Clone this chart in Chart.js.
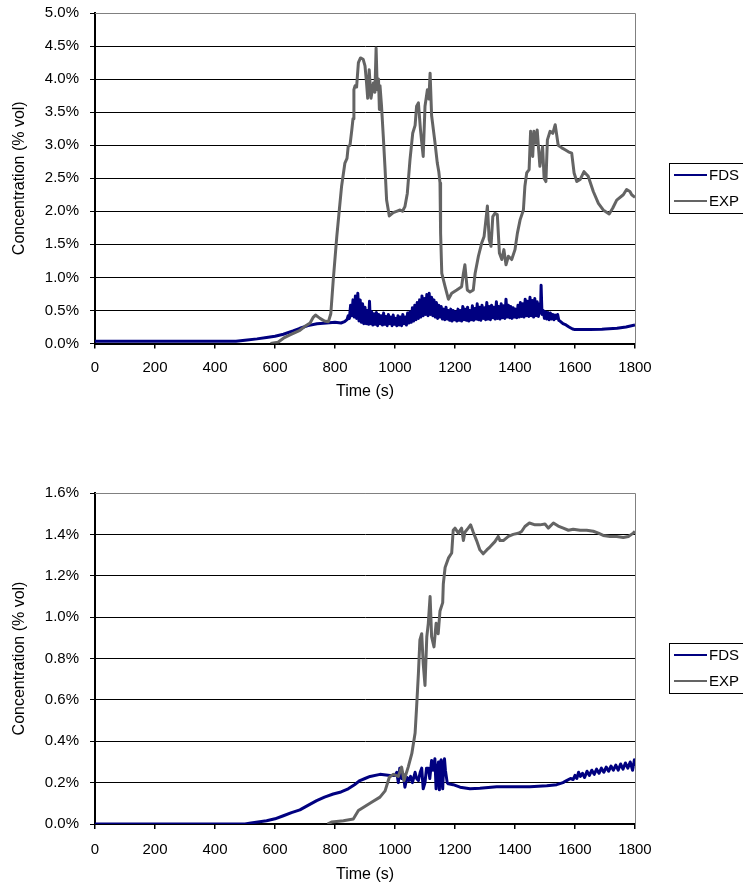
<!DOCTYPE html>
<html>
<head>
<meta charset="utf-8">
<script src="https://cdn.jsdelivr.net/npm/chart.js@4/dist/chart.umd.min.js"></script>
<style>
  body { margin: 0; background: #fff; }
  #wrap { position: relative; width: 743px; height: 884px; }
  canvas { position: absolute; left: 0; }
  #c1 { top: 0; }
  #c2 { top: 442px; }
</style>
</head>
<body>
<div id="wrap">
  <canvas id="c1" width="743" height="442"></canvas>
  <canvas id="c2" width="743" height="442"></canvas>
</div>
<script>
// time (s), concentration (% vol)
const xTicks = [0, 200, 400, 600, 800, 1000, 1200, 1400, 1600, 1800];
const seriesNames = ['FDS', 'EXP'];

const fdsTop = [[0,0.035],[100,0.035],[200,0.035],[300,0.035],[400,0.035],[470,0.035],[500,0.05],[540,0.07],[572,0.09],[600,0.11],[628,0.14],[660,0.19],[683,0.23],[710,0.27],[740,0.3],[772,0.31],[800,0.32],[820,0.31],[832,0.33],
  [840,0.36],[844,0.42],[848,0.38],[852,0.58],[856,0.42],[860,0.66],[864,0.4],[868,0.72],[872,0.38],[876,0.76],[880,0.34],[884,0.66],[888,0.32],[892,0.6],[896,0.3],[900,0.55],[904,0.3],[908,0.5],[912,0.29],[915,0.64],[918,0.3],[922,0.48],[926,0.28],[930,0.45],[934,0.29],[938,0.47],[942,0.27],[946,0.44],[950,0.3],[954,0.42],[958,0.28],[962,0.46],[966,0.29],[970,0.41],[974,0.27],[978,0.44],[982,0.3],[986,0.4],[990,0.27],[994,0.43],[998,0.29],
  [1002,0.38],[1006,0.27],[1010,0.42],[1014,0.28],[1018,0.4],[1022,0.27],[1026,0.44],[1030,0.3],[1034,0.4],[1038,0.28],[1042,0.46],[1046,0.31],[1050,0.48],[1054,0.32],[1058,0.54],[1062,0.34],[1066,0.58],[1070,0.36],[1074,0.62],[1078,0.38],[1082,0.66],[1086,0.4],[1090,0.72],[1094,0.42],[1098,0.68],[1102,0.44],[1106,0.74],[1110,0.42],[1114,0.76],[1118,0.44],[1122,0.7],[1126,0.42],[1130,0.66],[1134,0.4],[1138,0.62],[1142,0.38],[1146,0.58],[1150,0.4],[1154,0.56],[1158,0.37],[1162,0.52],[1166,0.36],[1170,0.55],[1174,0.37],[1178,0.5],[1182,0.35],[1186,0.52],[1190,0.34],[1194,0.5],[1198,0.36],
  [1202,0.48],[1206,0.34],[1210,0.52],[1214,0.35],[1218,0.5],[1222,0.34],[1226,0.56],[1230,0.36],[1234,0.52],[1238,0.35],[1242,0.55],[1246,0.34],[1250,0.5],[1254,0.36],[1258,0.57],[1262,0.35],[1266,0.53],[1270,0.37],[1274,0.6],[1278,0.36],[1282,0.55],[1286,0.35],[1290,0.58],[1294,0.38],[1298,0.54],[1302,0.36],[1306,0.62],[1310,0.37],[1314,0.56],[1318,0.36],[1322,0.58],[1326,0.39],[1330,0.55],[1334,0.37],[1338,0.63],[1342,0.38],[1346,0.56],[1350,0.37],[1354,0.6],[1358,0.39],[1362,0.57],[1366,0.38],[1370,0.67],[1374,0.4],[1378,0.58],[1382,0.39],[1386,0.56],[1390,0.38],[1394,0.54],[1398,0.4],
  [1402,0.52],[1406,0.39],[1410,0.58],[1414,0.4],[1418,0.62],[1422,0.41],[1426,0.6],[1430,0.4],[1434,0.67],[1438,0.42],[1442,0.64],[1446,0.41],[1450,0.7],[1454,0.42],[1458,0.65],[1462,0.4],[1466,0.68],[1470,0.42],[1474,0.63],[1478,0.41],[1482,0.6],[1485,0.46],[1487,0.88],[1490,0.44],[1494,0.5],[1498,0.38],[1502,0.48],[1506,0.37],[1510,0.47],[1514,0.36],[1518,0.46],[1522,0.37],[1526,0.44],[1530,0.36],[1534,0.43],[1538,0.38],[1542,0.44],[1546,0.35],[1550,0.34],[1560,0.3],[1570,0.28],[1580,0.25],[1592,0.22],[1600,0.21],[1650,0.21],[1690,0.215],[1700,0.22],[1740,0.23],[1770,0.25],[1800,0.28]];

const expTop = [[585,0],[610,0.02],[628,0.08],[650,0.13],[683,0.2],[700,0.26],[717,0.31],[728,0.4],[735,0.43],[750,0.38],[765,0.34],[778,0.33],[786,0.45],[794,0.95],[806,1.62],[815,2.05],[822,2.38],[833,2.73],[840,2.8],[844,2.98],[850,3.0],[856,3.23],[860,3.4],[863,3.84],[867,3.9],[872,3.88],[878,4.25],[885,4.32],[894,4.3],[900,4.2],[905,3.95],[909,3.71],[914,4.14],[920,3.71],[928,3.94],[933,3.8],[937,4.47],[941,3.84],[945,4.0],[948,3.54],[950,3.9],[955,3.6],[961,3.13],[967,2.63],[972,2.17],[981,1.93],[994,1.98],[1005,2.0],[1017,2.02],[1025,2.0],[1033,2.07],[1041,2.27],[1050,2.78],[1059,3.18],[1067,3.3],[1072,3.59],[1078,3.64],[1085,3.23],[1090,3.0],[1094,2.83],[1100,3.59],[1108,3.84],[1113,3.7],[1117,4.09],[1122,3.45],[1133,3.05],[1141,2.73],[1146,2.6],[1150,2.43],[1152,1.67],[1156,1.06],[1167,0.86],[1178,0.67],[1189,0.76],[1206,0.81],[1222,0.86],[1228,1.06],[1233,1.19],[1241,0.81],[1250,0.78],[1261,0.81],[1267,1.06],[1278,1.32],[1289,1.52],[1297,1.62],[1303,1.87],[1308,2.08],[1314,1.57],[1320,1.47],[1326,1.92],[1333,1.97],[1341,1.95],[1348,1.37],[1356,1.27],[1363,1.42],[1370,1.19],[1378,1.32],[1389,1.27],[1400,1.42],[1408,1.67],[1417,1.87],[1428,2.02],[1433,2.38],[1439,2.58],[1447,2.63],[1452,3.21],[1459,2.83],[1463,3.21],[1470,3.03],[1474,3.23],[1483,2.68],[1492,2.98],[1497,2.5],[1503,2.45],[1508,3.08],[1517,3.21],[1526,3.18],[1534,3.31],[1544,3.0],[1556,2.96],[1567,2.93],[1578,2.9],[1589,2.88],[1597,2.58],[1606,2.45],[1617,2.48],[1630,2.6],[1644,2.53],[1661,2.3],[1678,2.12],[1694,2.02],[1714,1.96],[1726,2.05],[1739,2.17],[1761,2.25],[1772,2.33],[1783,2.3],[1789,2.25],[1800,2.21]];

const fdsBottom = [[0,0],[500,0],[520,0.005],[572,0.016],[600,0.025],[628,0.04],[655,0.055],[683,0.068],[710,0.09],[739,0.113],[765,0.13],[794,0.145],[820,0.155],[844,0.17],[865,0.19],[883,0.21],[900,0.22],[917,0.23],[950,0.24],[983,0.235],[1000,0.235],[1006,0.25],[1011,0.2],[1016,0.27],[1022,0.22],[1028,0.24],[1033,0.178],[1040,0.225],[1046,0.21],[1052,0.23],[1058,0.2],[1067,0.25],[1072,0.22],[1078,0.21],[1084,0.25],[1089,0.27],[1094,0.17],[1100,0.2],[1105,0.27],[1111,0.27],[1116,0.22],[1122,0.307],[1127,0.26],[1133,0.315],[1137,0.17],[1141,0.26],[1145,0.3],[1148,0.165],[1151,0.3],[1154,0.31],[1157,0.2],[1159,0.17],[1162,0.28],[1165,0.315],[1168,0.26],[1170,0.24],[1174,0.2],[1178,0.194],[1194,0.19],[1217,0.178],[1250,0.17],[1283,0.173],[1339,0.18],[1394,0.18],[1450,0.18],[1506,0.185],[1539,0.19],[1560,0.2],[1572,0.21],[1585,0.22],[1594,0.215],[1600,0.235],[1606,0.22],[1612,0.25],[1618,0.23],[1625,0.245],[1632,0.225],[1640,0.255],[1648,0.235],[1656,0.26],[1664,0.24],[1672,0.265],[1680,0.245],[1688,0.27],[1696,0.25],[1704,0.275],[1712,0.255],[1720,0.28],[1728,0.26],[1736,0.285],[1744,0.26],[1752,0.29],[1760,0.265],[1768,0.295],[1776,0.27],[1784,0.3],[1792,0.26],[1798,0.31],[1800,0.28]];

const expBottom = [[775,0],[790,0.01],[828,0.016],[861,0.024],[878,0.065],[894,0.08],[922,0.105],[950,0.13],[967,0.16],[981,0.226],[994,0.24],[1011,0.23],[1022,0.275],[1030,0.21],[1044,0.275],[1056,0.34],[1067,0.44],[1072,0.565],[1078,0.727],[1083,0.89],[1089,0.92],[1094,0.776],[1100,0.67],[1106,0.905],[1111,0.97],[1117,1.1],[1122,0.905],[1130,0.856],[1137,0.97],[1144,0.92],[1150,1.03],[1159,1.07],[1161,1.16],[1167,1.24],[1178,1.285],[1189,1.31],[1194,1.42],[1200,1.43],[1211,1.406],[1222,1.43],[1228,1.37],[1233,1.41],[1244,1.43],[1252,1.446],[1261,1.41],[1272,1.37],[1283,1.325],[1294,1.306],[1306,1.325],[1317,1.34],[1333,1.365],[1344,1.39],[1350,1.37],[1361,1.37],[1378,1.39],[1394,1.4],[1411,1.405],[1422,1.414],[1433,1.438],[1448,1.455],[1467,1.446],[1483,1.446],[1500,1.45],[1511,1.43],[1528,1.455],[1544,1.44],[1561,1.43],[1578,1.42],[1594,1.425],[1617,1.42],[1639,1.42],[1661,1.415],[1678,1.406],[1694,1.395],[1717,1.39],[1739,1.39],[1761,1.385],[1778,1.39],[1794,1.406],[1800,1.414]];

const yTicksTop = [0, 0.5, 1, 1.5, 2, 2.5, 3, 3.5, 4, 4.5, 5];
const yTicksBottom = [0, 0.2, 0.4, 0.6, 0.8, 1, 1.2, 1.4, 1.6];

const FDS_COLOR = '#000080';
const EXP_COLOR = '#646464';
const FONT = 'Liberation Sans, Arial, sans-serif';

Chart.defaults.font.family = FONT;
Chart.defaults.font.size = 15;
Chart.defaults.color = '#000';

const toXY = (arr) => arr.map(p => ({ x: p[0], y: p[1] }));

// grey frame on top/right of plot area, boxed legend on the right
const framePlugin = {
  id: 'frame',
  beforeDatasetsDraw(chart) {
    const { ctx, chartArea: a } = chart;
    ctx.save();
    ctx.strokeStyle = '#808080';
    ctx.lineWidth = 1;
    ctx.beginPath();
    ctx.moveTo(a.left, Math.round(a.top) + 0.5);
    ctx.lineTo(Math.round(a.right) + 0.5, Math.round(a.top) + 0.5);
    ctx.lineTo(Math.round(a.right) + 0.5, a.bottom);
    ctx.stroke();
    ctx.restore();
  },
  afterDraw(chart, args, opts) {
    const { ctx } = chart;
    const top = opts.top;
    ctx.save();
    ctx.strokeStyle = '#000';
    ctx.lineWidth = 1;
    ctx.strokeRect(669.5, top + 0.5, 100, 50);
    ctx.font = '15px ' + FONT;
    ctx.textBaseline = 'middle';
    ctx.fillStyle = '#000';
    chart.data.datasets.forEach((ds, i) => {
      const y = top + 12 + i * 26;
      ctx.strokeStyle = ds.borderColor;
      ctx.lineWidth = 2;
      ctx.beginPath();
      ctx.moveTo(674, y);
      ctx.lineTo(707, y);
      ctx.stroke();
      ctx.fillText(ds.label, 709, y + 1);
    });
    ctx.restore();
  }
};

function makeChart(id, fds, exp, yTicks, padTop, padBottom, legendTop, xTickPad, xTitlePad) {
  const yMax = yTicks[yTicks.length - 1];
  return new Chart(document.getElementById(id), {
    type: 'line',
    data: {
      datasets: [
        { label: seriesNames[0], data: toXY(fds), borderColor: FDS_COLOR, borderWidth: 3, order: 1 },
        { label: seriesNames[1], data: toXY(exp), borderColor: EXP_COLOR, borderWidth: 3, order: 0 }
      ]
    },
    options: {
      responsive: false,
      animation: false,
      devicePixelRatio: 1,
      elements: { point: { radius: 0 }, line: { tension: 0, borderJoinStyle: 'round' } },
      layout: { padding: { left: 0, right: 108, top: padTop, bottom: padBottom } },
      plugins: {
        legend: { display: false },
        tooltip: { enabled: false },
        frame: { top: legendTop }
      },
      scales: {
        x: {
          type: 'linear',
          min: 0,
          max: 1800,
          afterBuildTicks: (s) => { s.ticks = xTicks.map(v => ({ value: v })); },
          afterFit: (s) => { s.height = 60; s.paddingLeft = 0; s.paddingRight = 0; },
          ticks: { padding: xTickPad, maxRotation: 0, color: '#000', callback: (v) => String(v) },
          grid: { drawOnChartArea: false, drawTicks: true, tickLength: 5, color: '#000', lineWidth: 1.5 },
          border: { display: true, color: '#000', width: 2 },
          title: { display: true, text: 'Time (s)', color: '#000', font: { size: 16 }, padding: { top: 0, bottom: xTitlePad } }
        },
        y: {
          min: 0,
          max: yMax,
          afterBuildTicks: (s) => { s.ticks = yTicks.map(v => ({ value: v })); },
          afterFit: (s) => { s.width = 95; s.paddingTop = 0; s.paddingBottom = 0; },
          ticks: { padding: 11, color: '#000', callback: (v) => v.toFixed(1) + '%' },
          grid: {
            drawTicks: true,
            tickLength: 5,
            lineWidth: 1,
            color: (c) => (c.tick && c.tick.value === yMax ? '#808080' : '#000'),
            tickColor: '#000'
          },
          border: { display: true, color: '#000', width: 2 },
          title: { display: true, text: 'Concentration (% vol)', color: '#000', font: { size: 16 }, padding: { top: 10, bottom: 0 } }
        }
      }
    },
    plugins: [framePlugin]
  });
}

makeChart('c1', fdsTop, expTop, yTicksTop, 13, 38.5, 163, 10.5, 2);
makeChart('c2', fdsBottom, expBottom, yTicksBottom, 51, 0, 201, 12, 0);
</script>
</body>
</html>
